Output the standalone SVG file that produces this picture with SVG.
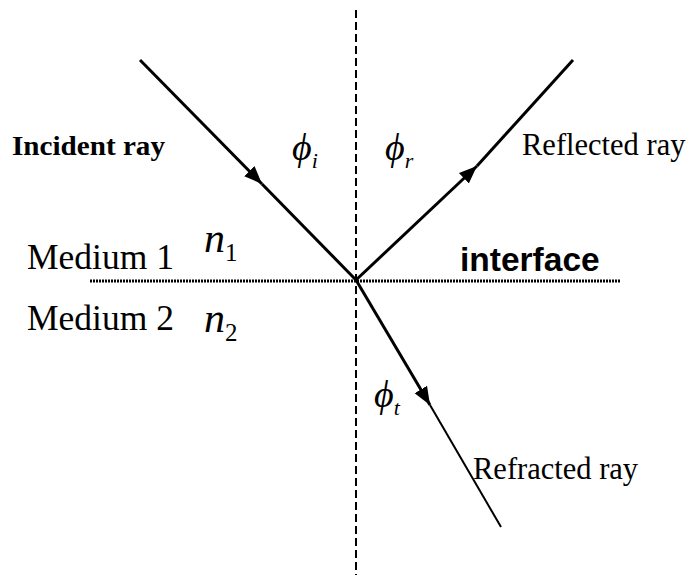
<svg xmlns="http://www.w3.org/2000/svg" width="693" height="577" viewBox="0 0 693 577">
<style>
.ray{stroke:#000;stroke-width:3;fill:none}
.t{font-family:"Liberation Serif",serif;fill:#000}
.sym{font-family:"Liberation Serif",serif;font-style:italic;fill:#000}
</style>
<defs>
<marker id="ah" viewBox="0 0 10 10" refX="10" refY="5" markerWidth="6" markerHeight="6" markerUnits="strokeWidth" orient="auto"><path d="M0,1 L10,5 L0,9 Z" fill="#000"/></marker>
</defs>
<rect width="693" height="577" fill="#fff"/>
<g id="normal"><line x1="356" y1="10" x2="356" y2="575" stroke="#000" stroke-width="2" stroke-dasharray="8 4"/></g>
<g id="interface"><line x1="90" y1="281" x2="620" y2="281" stroke="#000" stroke-width="3" stroke-dasharray="2 1"/></g>
<g id="connectors">
<line class="ray" x1="140" y1="60" x2="262" y2="184" marker-end="url(#ah)"/>
<line class="ray" x1="262" y1="184" x2="356" y2="280"/>
<line class="ray" x1="356" y1="280" x2="477" y2="166" marker-end="url(#ah)"/>
<line class="ray" x1="477" y1="166" x2="573" y2="60"/>
<line class="ray" x1="356" y1="280" x2="430" y2="405" marker-end="url(#ah)"/>
<line class="ray" x1="430" y1="405" x2="501" y2="527" style="stroke-width:2"/>
</g>
<g id="labels">
<text class="t" x="12" y="155" font-size="28" font-weight="bold" textLength="153" lengthAdjust="spacingAndGlyphs">Incident ray</text>
<text class="t" x="522" y="155" font-size="30.5">Reflected ray</text>
<text class="t" x="473" y="479" font-size="30.5">Refracted ray</text>
<text class="t" x="27" y="269" font-size="35.5">Medium 1</text>
<text class="t" x="27" y="330" font-size="35.5">Medium 2</text>
<text x="460" y="271" font-family="Liberation Sans,Arial,sans-serif" font-size="33.5" font-weight="bold">interface</text>
<text class="sym" x="204" y="252" font-size="42">n<tspan class="t" font-style="normal" font-size="25" dy="9">1</tspan></text>
<text class="sym" x="204" y="332" font-size="42">n<tspan class="t" font-style="normal" font-size="25" dy="9">2</tspan></text>
<text class="sym" x="292" y="160" font-size="38">ϕ<tspan font-size="22" dy="8">i</tspan></text>
<text class="sym" x="385" y="160" font-size="38">ϕ<tspan font-size="22" dy="8">r</tspan></text>
<text class="sym" x="374" y="407" font-size="38">ϕ<tspan font-size="22" dy="8">t</tspan></text>
</g>
</svg>
